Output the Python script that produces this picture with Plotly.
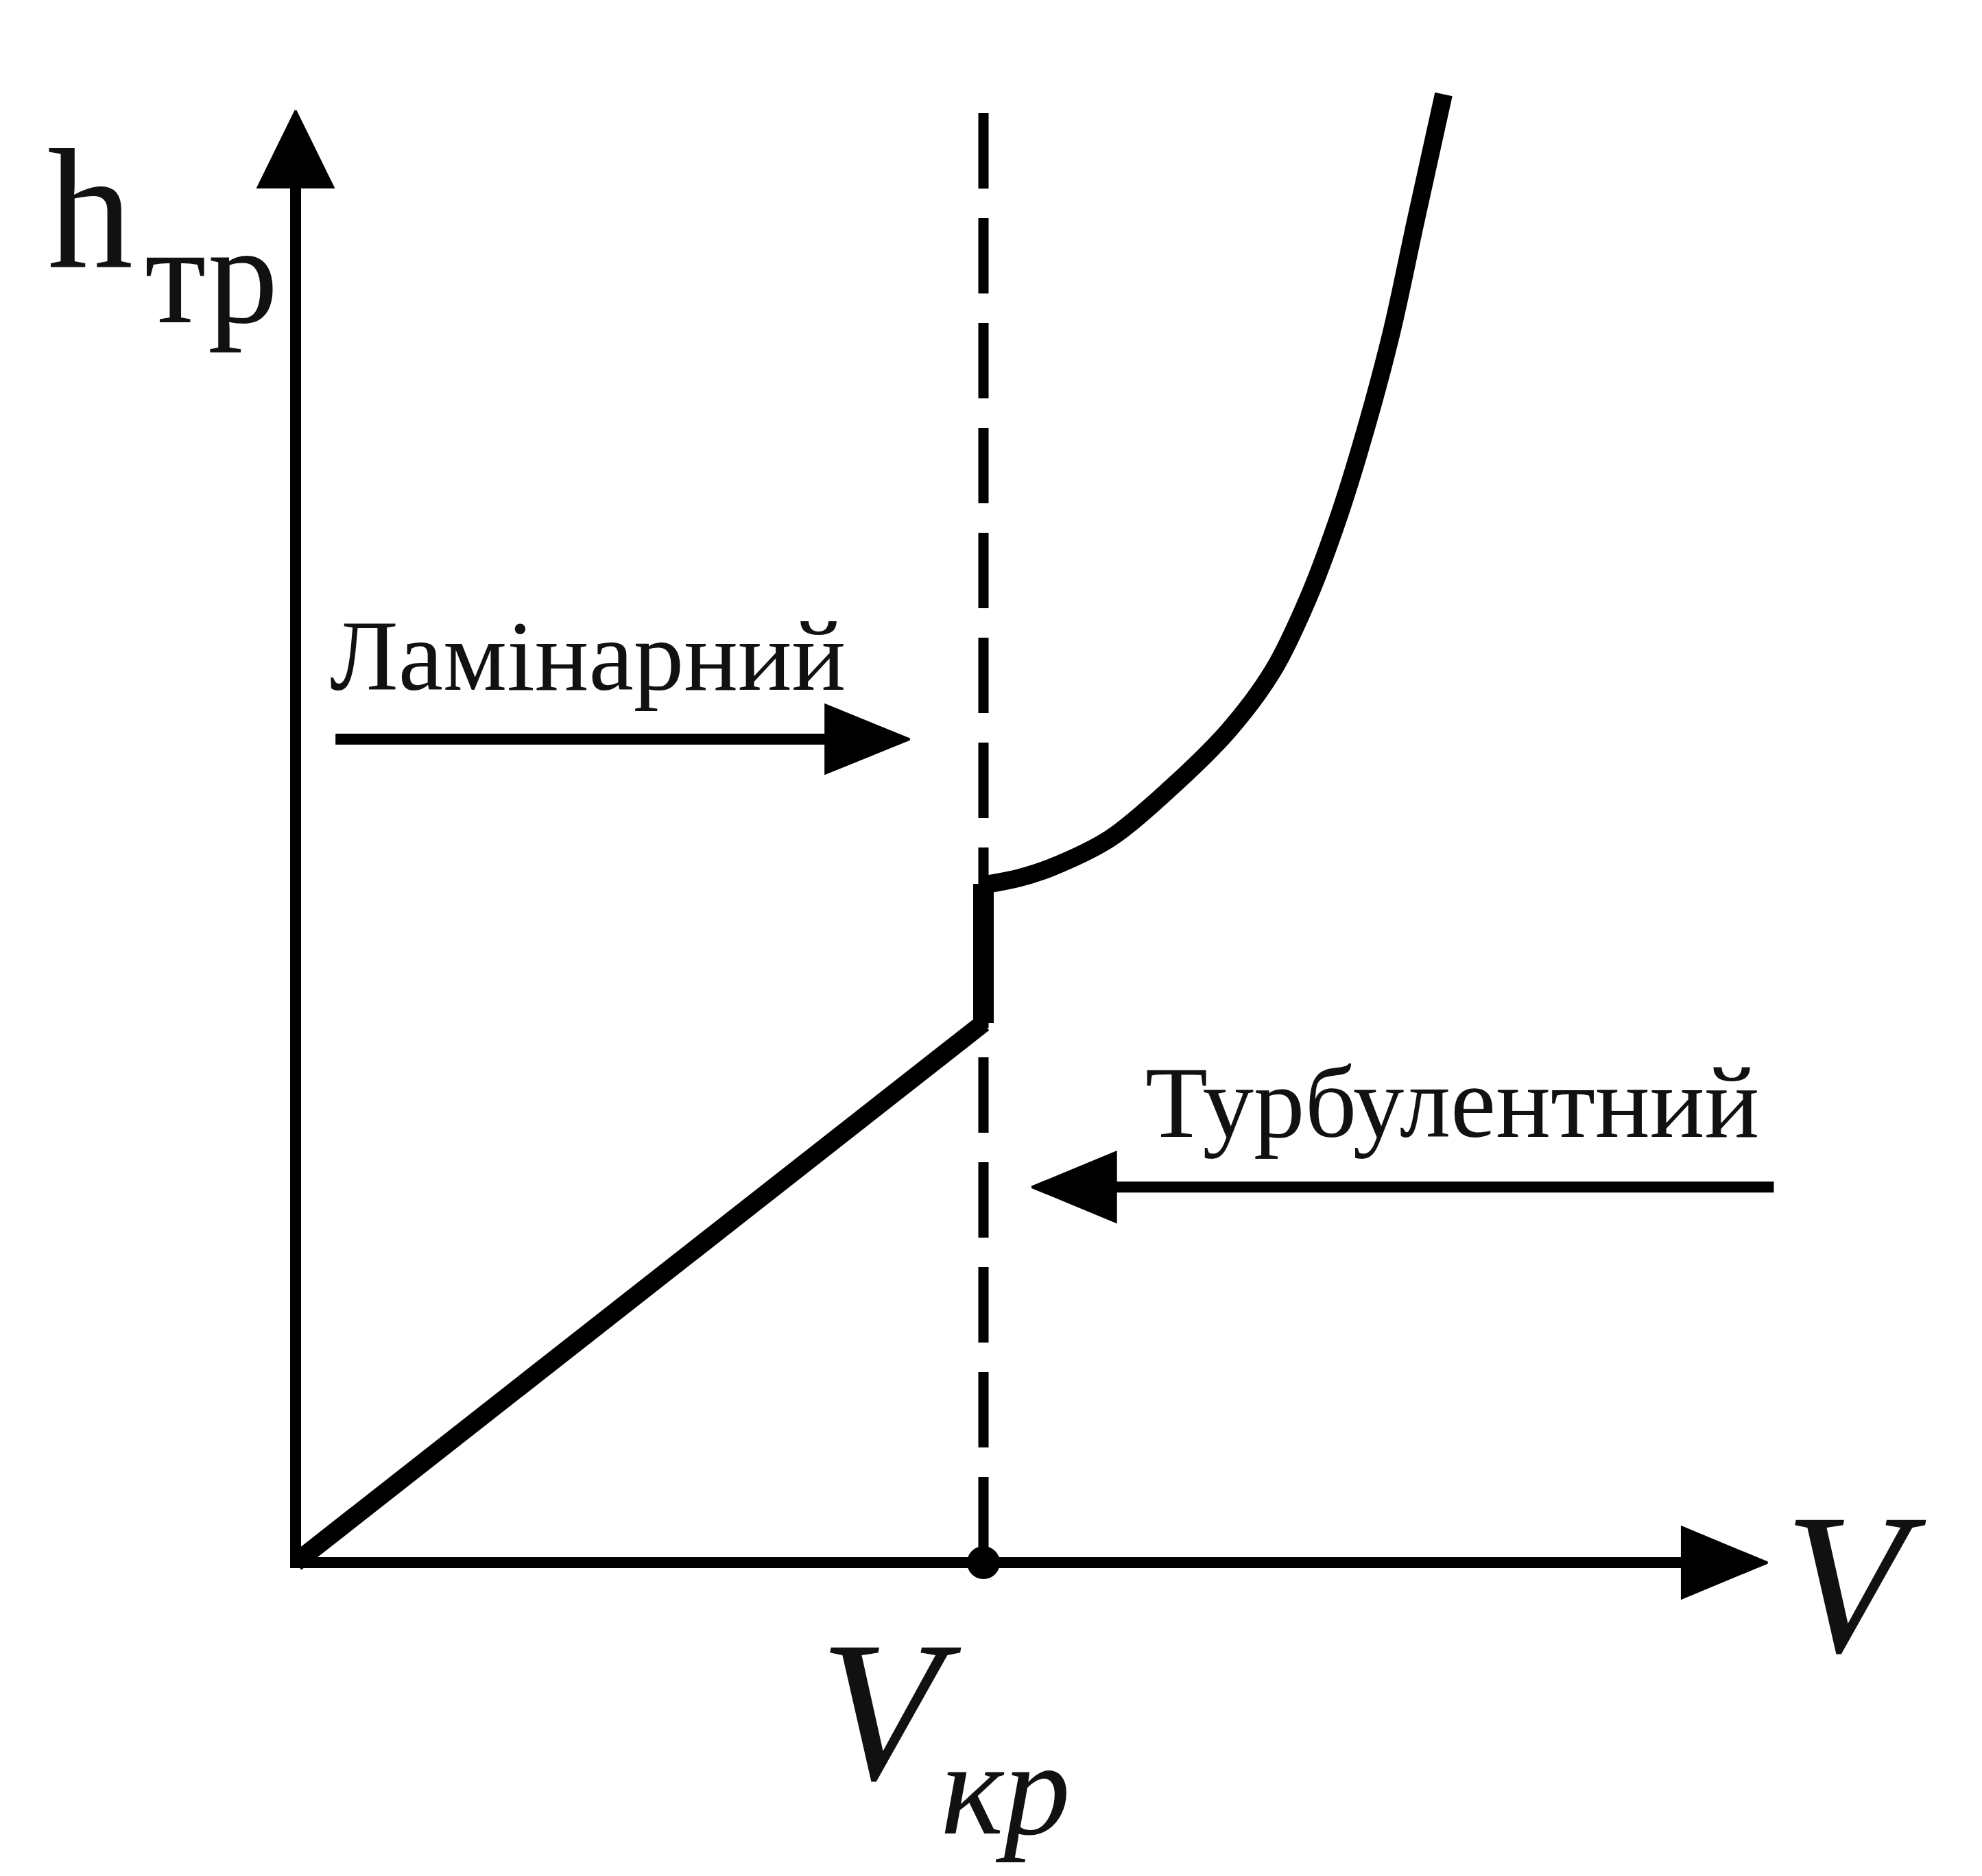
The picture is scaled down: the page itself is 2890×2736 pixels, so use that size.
import plotly.graph_objects as go

# ---------------- data (arbitrary units, V_kr = 1) ----------------
v_laminar = [0.0, 1.0]
h_laminar = [0.0, 1.0]

v_jump = [1.0, 1.0]
h_jump = [1.0, 1.258]

v_turb = [1.0, 1.052, 1.098, 1.184, 1.270, 1.357, 1.421, 1.472, 1.518, 1.559, 1.594, 1.629, 1.669]
h_turb = [1.256, 1.269, 1.288, 1.342, 1.433, 1.543, 1.653, 1.787, 1.944, 2.115, 2.284, 2.490, 2.721]

v_kr = 1.0
v_axis_end = 2.140
h_axis_end = 2.691
h_dash_top = 2.686

lam_arrow_v = [0.058, 0.893]
lam_arrow_h = 1.526
turb_arrow_v = [2.149, 1.070]
turb_arrow_h = 0.696

label_h = "h"
label_h_sub = "тр"
label_lam = "Ламінарний"
label_turb = "Турбулентний"
label_v = "V"
label_vkr_sub = "кр"

# ---------------- layout geometry ----------------
W, H = 2890, 2736
X0_PX, Y0_PX = 423, 2271          # origin in pixels
SX, SY = 1003.0, 787.0            # pixels per data unit
x_range = [-X0_PX / SX, (W - X0_PX) / SX]
y_range = [(Y0_PX - H) / SY, Y0_PX / SY]

BLACK = "#000000"
FONT = "Liberation Serif"

fig = go.Figure()


def line(xs, ys, width, dash=None):
    fig.add_trace(go.Scatter(x=xs, y=ys, mode="lines",
                             line=dict(color=BLACK, width=width, dash=dash),
                             hoverinfo="skip"))


def head(tip_x, tip_y, direction, length_px, half_px):
    """filled triangular arrow head; direction in {'right','left','up'}"""
    if direction == "right":
        L, Hh = length_px / SX, half_px / SY
        xs = [tip_x, tip_x - L, tip_x - L, tip_x]
        ys = [tip_y, tip_y + Hh, tip_y - Hh, tip_y]
    elif direction == "left":
        L, Hh = length_px / SX, half_px / SY
        xs = [tip_x, tip_x + L, tip_x + L, tip_x]
        ys = [tip_y, tip_y + Hh, tip_y - Hh, tip_y]
    else:  # up
        L, Hh = length_px / SY, half_px / SX
        xs = [tip_x, tip_x - Hh, tip_x + Hh, tip_x]
        ys = [tip_y, tip_y - L, tip_y - L, tip_y]
    fig.add_trace(go.Scatter(x=xs, y=ys, mode="lines", fill="toself",
                             fillcolor=BLACK, line=dict(color=BLACK, width=3),
                             hoverinfo="skip"))


# axes
line([0, 0], [-8 / SY, h_axis_end - 100 / SY], 16)
line([0, v_axis_end - 110 / SX], [0, 0], 16)
head(0, h_axis_end, "up", 112, 55)
head(v_axis_end, 0, "right", 125, 52)

# dashed critical-velocity line
line([v_kr, v_kr], [h_dash_top, 0], 15, dash="110px,43px")

# laminar part, jump, turbulent curve
line(v_laminar, h_laminar, 27)
line(v_jump, h_jump, 30)
fig.add_trace(go.Scatter(x=v_turb, y=h_turb, mode="lines",
                         line=dict(color=BLACK, width=26, shape="spline", smoothing=0.9),
                         hoverinfo="skip"))

# point V_kr on the axis
fig.add_trace(go.Scatter(x=[v_kr], y=[0], mode="markers",
                         marker=dict(color=BLACK, size=48, symbol="circle"),
                         hoverinfo="skip"))

# regime arrows
line([lam_arrow_v[0], lam_arrow_v[1] - 110 / SX], [lam_arrow_h, lam_arrow_h], 16)
head(lam_arrow_v[1], lam_arrow_h, "right", 123, 50)
line([turb_arrow_v[0], turb_arrow_v[1] + 110 / SX], [turb_arrow_h, turb_arrow_h], 16)
head(turb_arrow_v[1], turb_arrow_h, "left", 123, 51)


# ---------------- labels ----------------
def label(text, left_px, baseline_px, size, italic=False):
    y_mid = baseline_px - 0.3375 * size
    fig.add_annotation(x=left_px / W, y=1 - y_mid / H, xref="paper", yref="paper",
                       text=("<i>%s</i>" % text) if italic else text,
                       showarrow=False, xanchor="left", yanchor="middle",
                       font=dict(family=FONT, size=size, color="#111111"))


label(label_h, 59, 382, 250)
label(label_h_sub, 201, 462, 205)
label(label_lam, 471, 998, 147)
label(label_turb, 1660, 1650, 149)
label(label_v, 2592, 2400, 292, italic=True)
label(label_v, 1185, 2586, 292, italic=True)
label(label_vkr_sub, 1362, 2666, 195, italic=True)

fig.update_layout(
    width=W, height=H,
    margin=dict(l=0, r=0, t=0, b=0),
    paper_bgcolor="white", plot_bgcolor="white",
    showlegend=False,
    xaxis=dict(range=x_range, visible=False, fixedrange=True),
    yaxis=dict(range=y_range, visible=False, fixedrange=True),
)

fig.write_html("out.html")
